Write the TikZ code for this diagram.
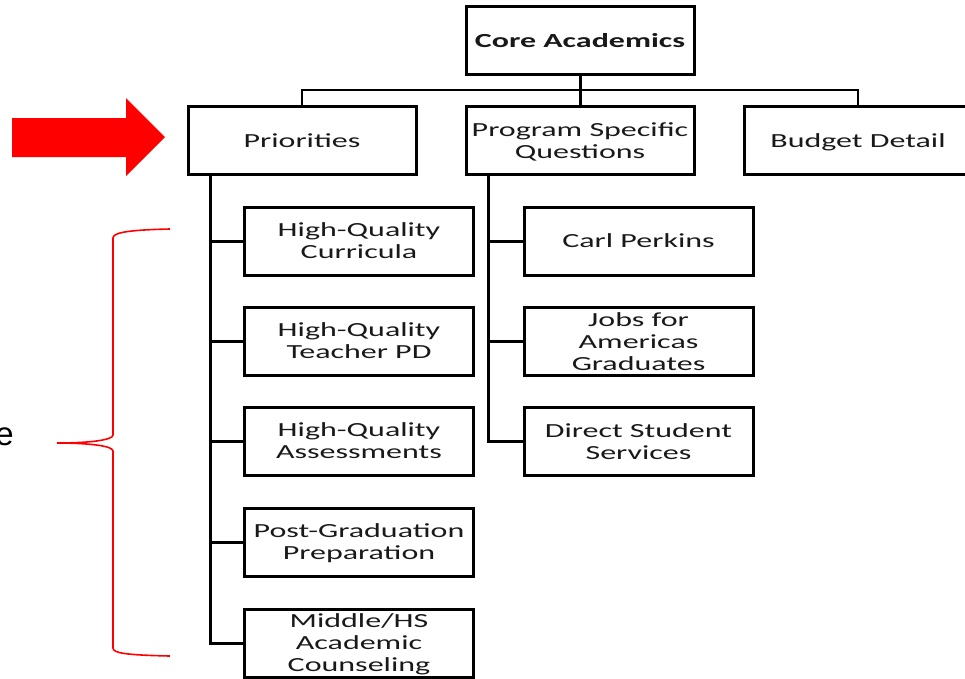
\documentclass[tikz,border=0pt]{standalone}
\usepackage{fontspec}
\setmainfont{Carlito}
\newfontfamily\labelfont{Liberation Sans}
\usepackage{graphicx}
\usetikzlibrary{positioning}

\newcommand{\boxtext}[1]{\raisebox{-2.5pt}[\height][\depth]{\scalebox{1.6}[1]{\begin{tabular}{@{}c@{}}#1\end{tabular}}}}

\begin{document}
\begin{tikzpicture}[x=1pt,y=-1pt,
    box/.style={draw, line width=3pt, minimum width=228pt, minimum height=68pt,
                inner sep=0pt, font=\fontsize{20}{22}\selectfont, text=black!90},
    link/.style={line width=3pt},
    bus/.style={line width=2.5pt}]
                \useasboundingbox (0,0) rectangle (965,678);
                \clip (0,0) rectangle (965,678);
                % top row
                \node [box] (core) at (580,40.5) {\boxtext{\bfseries Core Academics}};
                \node [box] (prio) at (302,140.5) {\boxtext{Priorities}};
                \node [box] (prog) at (580,140.5) {\boxtext{Program Specific\\Questions}};
                \node [box] (budget) at (858,140.5) {\boxtext{Budget Detail}};
                \coordinate (bus) at (580,90);
                \draw [bus] (prio.north) |- (bus) -| (budget.north);
                \draw [link] (core.south) -- (prog.north);
                % priorities column
                \node [box, minimum width=229pt] (hqc) at (359,241) {\boxtext{High-Quality\\Curricula}};
                \node [box, minimum width=229pt] (hqt) at (359,341) {\boxtext{High-Quality\\Teacher PD}};
                \node [box, minimum width=229pt] (hqa) at (359,441) {\boxtext{High-Quality\\Assessments}};
                \node [box, minimum width=229pt] (pgp) at (359,542) {\boxtext{Post-Graduation\\Preparation}};
                \node [box, minimum width=229pt] (mhs) at (359,643) {\boxtext{Middle/HS\\Academic\\Counseling}};
                \coordinate (prspine) at ([xshift=24pt]prio.south west);
                \draw [link] (prspine) |- (mhs.west);
                \foreach \n in {hqc,hqt,hqa,pgp}
                    \draw [link] (prspine |- \n.west) -- (\n.west);
                % program column
                \node [box, minimum width=229pt] (carl) at (638.5,241) {\boxtext{Carl Perkins}};
                \node [box, minimum width=229pt] (jobs) at (638.5,341.5) {\boxtext{Jobs for\\Americas\\Graduates}};
                \node [box, minimum width=229pt] (dss) at (638.5,441.5) {\boxtext{Direct Student\\Services}};
                \coordinate (pgspine) at ([xshift=24pt]prog.south west);
                \draw [link] (pgspine) |- (dss.west);
                \foreach \n in {carl,jobs}
                    \draw [link] (pgspine |- \n.west) -- (\n.west);
                % red arrow and brace
                \fill [red] (12,118) -- (126,118) -- (126,98) -- (165,137) -- (126,176)
                    -- (126,157) -- (12,157) -- cycle;
                \draw [red, line width=1.6pt] (170,229) .. controls (125,230) and (113,233) .. (113,238)
                    -- (113,435) .. controls (113,440) and (90,443) .. (57,443)
                    .. controls (90,443) and (113,446) .. (113,451)
                    -- (113,648) .. controls (113,653) and (125,655) .. (170,656);
                \node [anchor=base east, inner sep=0pt, font=\labelfont\fontsize{33}{33}\selectfont] (elabel) at (14,445) {e};
\end{tikzpicture}
\end{document}
